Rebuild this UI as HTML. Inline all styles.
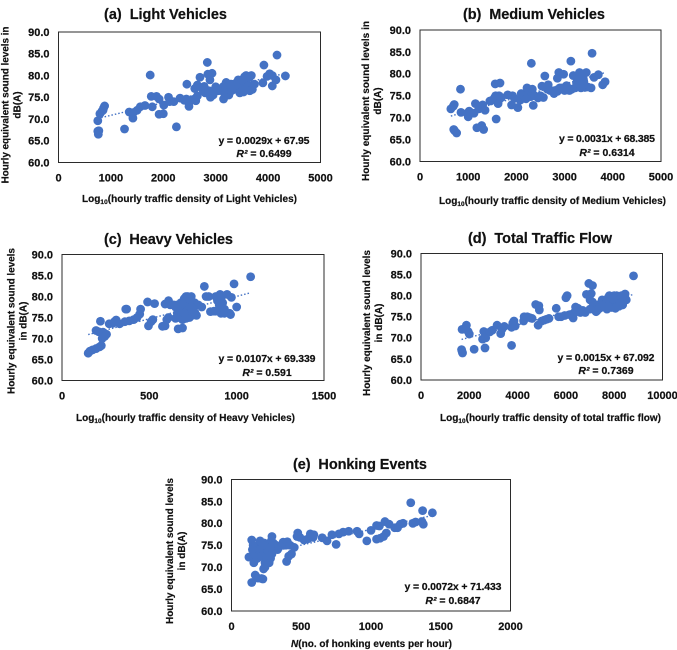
<!DOCTYPE html>
<html lang="en">
<head>
<meta charset="utf-8">
<title>Hourly equivalent sound levels</title>
<style>
html,body{margin:0;padding:0;background:#fff;width:677px;height:650px;overflow:hidden}
svg{display:block;filter:blur(0.3px)}
text{font-family:"Liberation Sans",sans-serif;font-weight:bold;fill:#111;stroke:#111;stroke-width:0.2px;white-space:pre}
.title{font-size:14.5px}
.ax{font-size:10px}
.tick{font-size:11px}
.eq{font-size:10.5px}
.sub{font-size:6.5px}
</style>
</head>
<body>
<svg id="figure" xmlns="http://www.w3.org/2000/svg" width="677" height="650" viewBox="0 0 677 650">
  <g id="chart-a">
    <text class="title" x="104" y="19" textLength="123">(a)  Light Vehicles</text>
    <text class="ax" transform="translate(8.5,105) rotate(-90)" text-anchor="middle" textLength="157">Hourly equivalent sound levels in</text>
    <text class="ax" transform="translate(20.5,105) rotate(-90)" text-anchor="middle">dB(A)</text>
    <text class="ax" x="82" y="202" textLength="215">Log<tspan class="sub" dy="2">10</tspan><tspan dy="-2">(hourly traffic density of Light Vehicles)</tspan></text>
    <text class="eq" x="264" y="144" text-anchor="middle" textLength="91">y = 0.0029x + 67.95</text>
    <text class="eq" x="264" y="157" text-anchor="middle"><tspan font-style="italic">R²</tspan> = 0.6499</text>
  </g>
  <g id="chart-b">
    <text class="title" x="463" y="19" textLength="142">(b)  Medium Vehicles</text>
    <text class="ax" transform="translate(369,101) rotate(-90)" text-anchor="middle" textLength="160">Hourly equivalent sound levels in</text>
    <text class="ax" transform="translate(381,101) rotate(-90)" text-anchor="middle">dB(A)</text>
    <text class="ax" x="439" y="204" textLength="227">Log<tspan class="sub" dy="2">10</tspan><tspan dy="-2">(hourly traffic density of Medium Vehicles)</tspan></text>
    <text class="eq" x="607" y="142" text-anchor="middle" textLength="96">y = 0.0031x + 68.385</text>
    <text class="eq" x="607" y="156" text-anchor="middle"><tspan font-style="italic">R²</tspan> = 0.6314</text>
  </g>
  <g id="chart-c">
    <text class="title" x="104" y="244" textLength="129">(c)  Heavy Vehicles</text>
    <text class="ax" transform="translate(14.5,321) rotate(-90)" text-anchor="middle" textLength="146">Hourly equivalent sound levels</text>
    <text class="ax" transform="translate(26.5,321) rotate(-90)" text-anchor="middle">in dB(A)</text>
    <text class="ax" x="76" y="421" textLength="219">Log<tspan class="sub" dy="2">10</tspan><tspan dy="-2">(hourly traffic density of Heavy Vehicles)</tspan></text>
    <text class="eq" x="267" y="362" text-anchor="middle" textLength="97">y = 0.0107x + 69.339</text>
    <text class="eq" x="267" y="376" text-anchor="middle"><tspan font-style="italic">R²</tspan> = 0.591</text>
  </g>
  <g id="chart-d">
    <text class="title" x="468" y="243" textLength="144">(d)  Total Traffic Flow</text>
    <text class="ax" transform="translate(370,323) rotate(-90)" text-anchor="middle" textLength="146">Hourly equivalent sound levels</text>
    <text class="ax" transform="translate(382,323) rotate(-90)" text-anchor="middle">in dB(A)</text>
    <text class="ax" x="440" y="421" textLength="221">Log<tspan class="sub" dy="2">10</tspan><tspan dy="-2">(hourly traffic density of total traffic flow)</tspan></text>
    <text class="eq" x="606" y="361" text-anchor="middle" textLength="97">y = 0.0015x + 67.092</text>
    <text class="eq" x="606" y="374" text-anchor="middle"><tspan font-style="italic">R²</tspan> = 0.7369</text>
  </g>
  <g id="chart-e">
    <text class="title" x="293" y="469" textLength="134">(e)  Honking Events</text>
    <text class="ax" transform="translate(173,551) rotate(-90)" text-anchor="middle" textLength="146">Hourly equivalent sound levels</text>
    <text class="ax" transform="translate(185,551) rotate(-90)" text-anchor="middle">in dB(A)</text>
    <text class="ax" x="291" y="647" textLength="161"><tspan font-style="italic">N</tspan>(no. of honking events per hour)</text>
    <text class="eq" x="453" y="590" text-anchor="middle" textLength="97">y = 0.0072x + 71.433</text>
    <text class="eq" x="453" y="604" text-anchor="middle"><tspan font-style="italic">R²</tspan> = 0.6847</text>
  </g>
</svg>
<script>
var yTicks = [60, 65, 70, 75, 80, 85, 90];
var aTicks = [0, 1000, 2000, 3000, 4000, 5000];
var bTicks = [0, 1000, 2000, 3000, 4000, 5000];
var cTicks = [0, 500, 1000, 1500];
var dTicks = [0, 2000, 4000, 6000, 8000, 10000];
var eTicks = [0, 500, 1000, 1500, 2000];

var aTrend = [0.0029, 67.95];
var bTrend = [0.0031, 68.385];
var cTrend = [0.0107, 69.339];
var dTrend = [0.0015, 67.092];
var eTrend = [0.0072, 71.433];

var aX = [750,770,760,750,790,830,860,880,850,1260,1350,1420,1430,1500,1560,1650,1750,1790,1770,1870,1920,1920,2000,2010,2100,2120,2200,2250,2320,2400,2440,2450,2490,2500,2570,2620,2650,2600,2650,2700,2750,2800,2840,2850,2890,2930,2900,2950,3000,3100,3150,3200,3200,3250,3300,3300,3350,3400,3430,3480,3500,3530,3550,3600,3620,3650,3680,3700,3740,3900,3920,3980,4030,4080,4080,4150,4170,4330,3580,3450,3250,3150,2780,2870,3050,3380,3520,3560,3300,3420,3500,3600,3560,3460,3380,3280,3150,3640,2870,2980];
var aY = [67.2,67.3,66.5,69.6,71.2,71.8,72.5,73,72,67.7,71.6,70.2,71.5,72,72.8,73.1,80.1,72.8,75.2,75.2,74.6,71.1,71.2,73.2,75,74,74,68.2,74.8,74.3,74.6,78,72.9,74,74.5,74.2,75.3,77,77.8,79.6,76.8,76,83,80.3,79,80.5,75,75.5,77.4,77,74.6,76,78.4,75.5,77,78,76.8,77.2,79,76.8,78,76.2,79.7,78,77,76.5,80,76.8,78,78.3,82.4,79.8,80.4,80,77.6,79,84.7,79.9,80,77.5,76.8,77.5,77.5,76.5,76.5,78.2,77.2,78.8,76.5,78.5,79,79.5,76.8,76,77.8,78,76.2,79.5,76.5,76.5];

var bX = [640,690,710,840,850,700,720,760,980,1000,1020,1120,1150,1180,1220,1280,1300,1320,1350,1450,1500,1550,1570,1580,1560,1620,1640,1660,1690,1820,1900,1920,1960,2030,2080,2100,2150,2220,2250,2310,2330,2350,2300,2380,2500,2530,2560,2590,2640,2660,2750,2780,2850,2880,2900,2980,3000,3040,3100,3130,3180,3220,3280,3310,3330,3350,3370,3400,3420,3450,3480,3550,3570,3610,3700,3790,3840,3260,3320,3390,2950,2700,3250,3300,3350,3400,3300,3250,3340,2800,2850,2950,3050,3150,2450,2200];
var bY = [72,72.6,73,76.5,71.2,67.3,67,66.5,71,70.2,71.5,71,73.2,67.7,72,68.2,72.9,67.3,71.7,73.8,74,74.6,75,69.7,77.7,73.2,75,77.9,74.6,75.2,72.9,75,74.4,72.3,74,75.5,75,76.8,75.6,82.4,76.5,72.8,74.8,75,75,77.2,74.6,79.5,76.5,77.5,76,75.5,79,80.3,76.8,79.9,76.2,77.3,76.2,82.9,79.6,76.8,77.2,80.3,78.5,79.5,77.5,78.2,76.9,80.3,77,76.8,84.7,79.2,79.8,77.5,78.2,78.2,79.2,78.8,76.5,76.2,78,79,80,77.5,77,77.8,76.8,76.2,76,76.8,76.8,76.5,74.5,74.3];

var cX = [150,160,175,195,215,225,195,210,220,235,230,245,255,270,290,300,310,330,360,365,370,385,410,430,445,450,490,495,510,520,530,575,590,590,600,610,610,620,650,660,665,680,690,690,700,700,710,720,730,740,745,750,760,780,800,815,825,840,850,870,880,900,905,920,930,945,960,965,970,985,1000,1080,670,680,700,720,660,710,900,910,680,700,720,740,670,690,710,730,760,650,640,720,700,740,910,890,880,930,770];
var cY = [66.5,67,67.3,67.6,68,68.3,71.9,71.6,74.1,71.5,70,70.5,71,73.5,73.6,74,74.4,73.5,74,77,77,74.2,74.5,75,75.8,77,78.7,73,74,74.5,78.3,72.9,73,78.2,74.5,79,75,78,77.5,76,72.3,75,72.5,77,79,75,80,76.5,76,80,75.5,77.5,78.5,78,77.5,82.4,80,80,76.4,76.5,80,77,80.5,78.5,76,80.5,76,75.7,79.8,83,77.5,84.7,75,76,76.5,75,78,78,78,76,78.5,79.5,80,79,76.5,74.5,74.8,75,76.2,74.8,78,76.8,76,77.5,79.5,79,76.5,77,75.5];

var dX = [1700,1680,1700,1720,1880,1950,2000,2200,2550,2650,2600,2680,2850,2950,3150,3300,3350,3450,3750,3750,3800,3850,3900,4250,4270,4400,4500,4600,4750,4850,4880,4900,5000,5100,5200,5300,5600,5700,5800,5950,6000,6050,6150,6300,6350,6400,6500,6600,6800,6850,6950,7000,7050,7100,7150,7200,7250,7400,7500,7600,7700,7750,7800,7900,8000,8050,8100,8200,8300,8350,8450,8500,8800,7650,7850,8150,7950,7400,7600,7700,7800,7900,8000,8100,8200,8300,7500,7300,7000,7100,6700,8400,8250,7750,7950,8050];
var dY = [72,67.2,66.8,66.4,73,71.5,70.9,67.3,69.7,67.6,71.5,70,71.4,71.8,73,71,72,72.7,68.2,72.5,73.5,74,72.8,74,75,75,74.8,74.6,77.9,73,77.6,76.6,74,74.2,74.4,74.6,77,75,75,75.3,79.5,80,75.5,74.7,76,77.3,77,76,76,80.3,82.9,79,80.5,82.4,78,77,76.2,77,79,78,76.8,79.5,80,78,80,78,80,77.5,80,77.8,80.4,79,84.7,78,78.5,78.8,79,78,77.5,78.5,79,77.2,78.5,77.5,79,79,77.5,76.5,76.8,78.5,76.5,79,78.2,77.5,79.2,77];

var eX = [125,145,145,160,165,170,180,190,195,200,205,215,220,225,230,230,240,250,265,270,280,285,290,300,320,330,340,370,390,395,400,410,420,430,450,470,475,490,520,550,565,585,590,650,685,720,750,770,800,840,900,915,970,1000,1040,1040,1060,1065,1090,1100,1110,1130,1170,1190,1210,1230,1285,1300,1320,1365,1370,1375,1440,175,210,240,260,290,155,170,185,200,215,235,250,265,280,300,270,240,225,205,150];
var eY = [72.3,76.2,66.5,71,73,68.2,74,67.5,75,73,75.4,67.4,74,67.3,73,69.6,70,74,75,71,72,76,77,74.5,75,74,74.5,75.7,75,71.3,75.8,72.5,75,73,74.5,77,77.8,76.8,76.2,76.5,77.6,76.8,77.4,76.7,76,77.4,75.2,77.6,78,78.2,78.2,77.6,76,78.4,79.5,76.4,79.4,76.6,77,80.4,77.8,79.8,79,79,79.8,80,84.7,80,80.3,80.4,82.9,79.8,82.4,74.5,72.5,72.5,73.5,73,75,73.5,72,74,72.5,75.5,72,73.5,74.5,75.5,72.5,71,75,76,74];

var NS = 'http://www.w3.org/2000/svg';

function drawChart(id, xs, ys, trend, xTicks, box) {
  var parent = document.getElementById(id);
  var xMax = xTicks[xTicks.length - 1];
  function sx(v) { return box.x0 + (v / xMax) * (box.x1 - box.x0); }
  function sy(v) { return box.y1 - ((v - 60) / 30) * (box.y1 - box.y0); }

  var frame = document.createElementNS(NS, 'rect');
  
  
  frame.setAttribute('x', box.x0);
  frame.setAttribute('y', box.y0);
  frame.setAttribute('width', box.x1 - box.x0);
  frame.setAttribute('height', box.y1 - box.y0);
  frame.setAttribute('fill', '#fff');
  frame.setAttribute('stroke', '#2b2b2b');
  frame.setAttribute('stroke-width', '1');
  parent.insertBefore(frame, parent.firstChild);

  yTicks.forEach(function (t) {
    var el = document.createElementNS(NS, 'text');
    
    
    el.setAttribute('class', 'tick');
    el.setAttribute('x', box.x0 - 9);
    el.setAttribute('y', sy(t) + 3.9);
    el.setAttribute('text-anchor', 'end');
    el.textContent = t.toFixed(1);
    parent.appendChild(el);
  });

  xTicks.forEach(function (t) {
    var el = document.createElementNS(NS, 'text');
    
    
    el.setAttribute('class', 'tick');
    el.setAttribute('x', sx(t));
    el.setAttribute('y', box.y1 + 19);
    el.setAttribute('text-anchor', 'middle');
    el.textContent = String(t);
    parent.appendChild(el);
  });

  var lo = Math.min.apply(null, xs);
  var hi = Math.max.apply(null, xs);
  var line = document.createElementNS(NS, 'line');
  
  
  line.setAttribute('x1', sx(lo));
  line.setAttribute('y1', sy(trend[0] * lo + trend[1]));
  line.setAttribute('x2', sx(hi));
  line.setAttribute('y2', sy(trend[0] * hi + trend[1]));
  line.setAttribute('stroke', '#4472c4');
  line.setAttribute('stroke-width', '1.4');
  line.setAttribute('stroke-dasharray', '1.5 2');
  parent.appendChild(line);

  xs.forEach(function (v, i) {
    var pt = document.createElementNS(NS, 'circle');
    
    
    pt.setAttribute('cx', sx(v));
    pt.setAttribute('cy', sy(ys[i]));
    pt.setAttribute('r', '4.4');
    pt.setAttribute('fill', '#4472c4');
    parent.appendChild(pt);
  });
}

drawChart('chart-a', aX, aY, aTrend, aTicks, {x0: 58.5, x1: 320.5, y0: 32, y1: 162.5});
drawChart('chart-b', bX, bY, bTrend, bTicks, {x0: 420, x1: 661, y0: 30, y1: 161.5});
drawChart('chart-c', cX, cY, cTrend, cTicks, {x0: 62, x1: 324, y0: 254.5, y1: 380.5});
drawChart('chart-d', dX, dY, dTrend, dTicks, {x0: 421, x1: 662.5, y0: 253.5, y1: 380});
drawChart('chart-e', eX, eY, eTrend, eTicks, {x0: 231.5, x1: 510.5, y0: 479.5, y1: 611});
</script>
</body>
</html>
